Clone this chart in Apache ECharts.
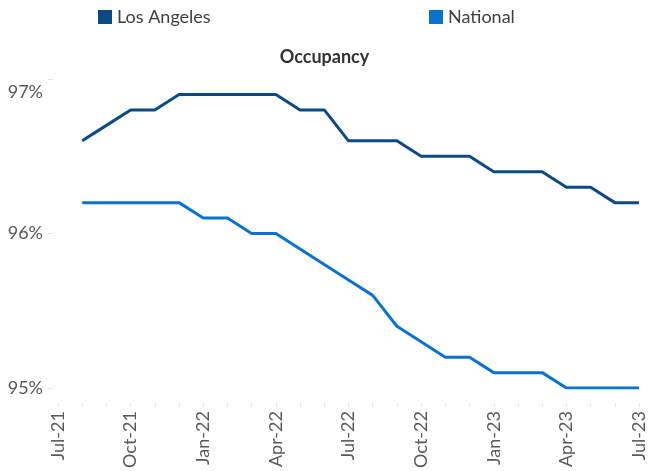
<!DOCTYPE html>
<html>
<head>
<meta charset="utf-8">
<script src="https://cdn.jsdelivr.net/npm/echarts@6/dist/echarts.min.js"></script>
<style>
  html, body { margin: 0; padding: 0; background: #fff; }
  #chart { width: 649px; height: 471px; }
</style>
</head>
<body>
<div id="chart"></div>
<script>
var months = ['Jul-21', 'Aug-21', 'Sep-21', 'Oct-21', 'Nov-21', 'Dec-21',
    'Jan-22', 'Feb-22', 'Mar-22', 'Apr-22', 'May-22', 'Jun-22',
    'Jul-22', 'Aug-22', 'Sep-22', 'Oct-22', 'Nov-22', 'Dec-22',
    'Jan-23', 'Feb-23', 'Mar-23', 'Apr-23', 'May-23', 'Jun-23', 'Jul-23'];

// no value for Jul-21, lines start at Aug-21
var losAngeles = ['-', 96.6, 96.7, 96.8, 96.8, 96.9, 96.9, 96.9, 96.9, 96.9,
    96.8, 96.8, 96.6, 96.6, 96.6, 96.5, 96.5, 96.5, 96.4, 96.4, 96.4,
    96.3, 96.3, 96.2, 96.2];
var national = ['-', 96.2, 96.2, 96.2, 96.2, 96.2, 96.1, 96.1, 96.0, 96.0,
    95.9, 95.8, 95.7, 95.6, 95.4, 95.3, 95.2, 95.2, 95.1, 95.1, 95.1,
    95.0, 95.0, 95.0, 95.0];

var yTicks = [95, 96, 97];

var font = 'Lato';
var chart = echarts.init(document.getElementById('chart'));
chart.setOption({
    color: ['#0b4a85', '#0a72cf'],
    textStyle: { fontFamily: font },
    title: {
        text: 'Occupancy',
        left: 'center',
        top: 43,
        textStyle: { fontSize: 18, fontWeight: 'bold', color: '#333', fontFamily: font }
    },
    legend: [
        {
            data: ['Los Angeles'],
            left: 93,
            top: 3,
            icon: 'rect',
            itemWidth: 14,
            itemHeight: 14,
            textStyle: { fontSize: 18, color: '#404040', fontFamily: font }
        },
        {
            data: ['National'],
            left: 424,
            top: 3,
            icon: 'rect',
            itemWidth: 14,
            itemHeight: 14,
            textStyle: { fontSize: 18, color: '#404040', fontFamily: font }
        }
    ],
    grid: {
        left: 58,
        right: 10,
        top: 79,
        bottom: 81
    },
    xAxis: {
        type: 'category',
        data: months,
        boundaryGap: false,
        offset: 15,
        axisLine: { show: false },
        axisTick: {
            show: true,
            interval: 0,
            length: 4,
            lineStyle: { color: '#e6e6e6' }
        },
        axisLabel: {
            interval: 2,
            rotate: 90,
            margin: 8,
            fontSize: 18,
            color: '#595959',
            fontFamily: font
        },
        splitLine: { show: false }
    },
    yAxis: {
        type: 'value',
        min: yTicks[0],
        max: yTicks[yTicks.length - 1],
        interval: 1,
        offset: 5,
        axisLine: { show: false },
        axisTick: {
            show: true,
            length: 5,
            lineStyle: { color: '#e6e6e6' }
        },
        axisLabel: {
            margin: 10,
            fontSize: 18,
            color: '#595959',
            fontFamily: font,
            formatter: function (v) {
                if (v === yTicks[yTicks.length - 1]) {
                    return '{top|' + v + '%}';
                }
                return v + '%';
            },
            rich: {
                top: {
                    fontSize: 18,
                    color: '#595959',
                    fontFamily: font,
                    padding: [26, 0, 0, 0]
                }
            }
        },
        splitLine: { show: false }
    },
    series: [
        {
            name: 'Los Angeles',
            type: 'line',
            data: losAngeles,
            symbol: 'none',
            lineStyle: { width: 3 }
        },
        {
            name: 'National',
            type: 'line',
            data: national,
            symbol: 'none',
            lineStyle: { width: 3 }
        }
    ]
});
</script>
</body>
</html>
